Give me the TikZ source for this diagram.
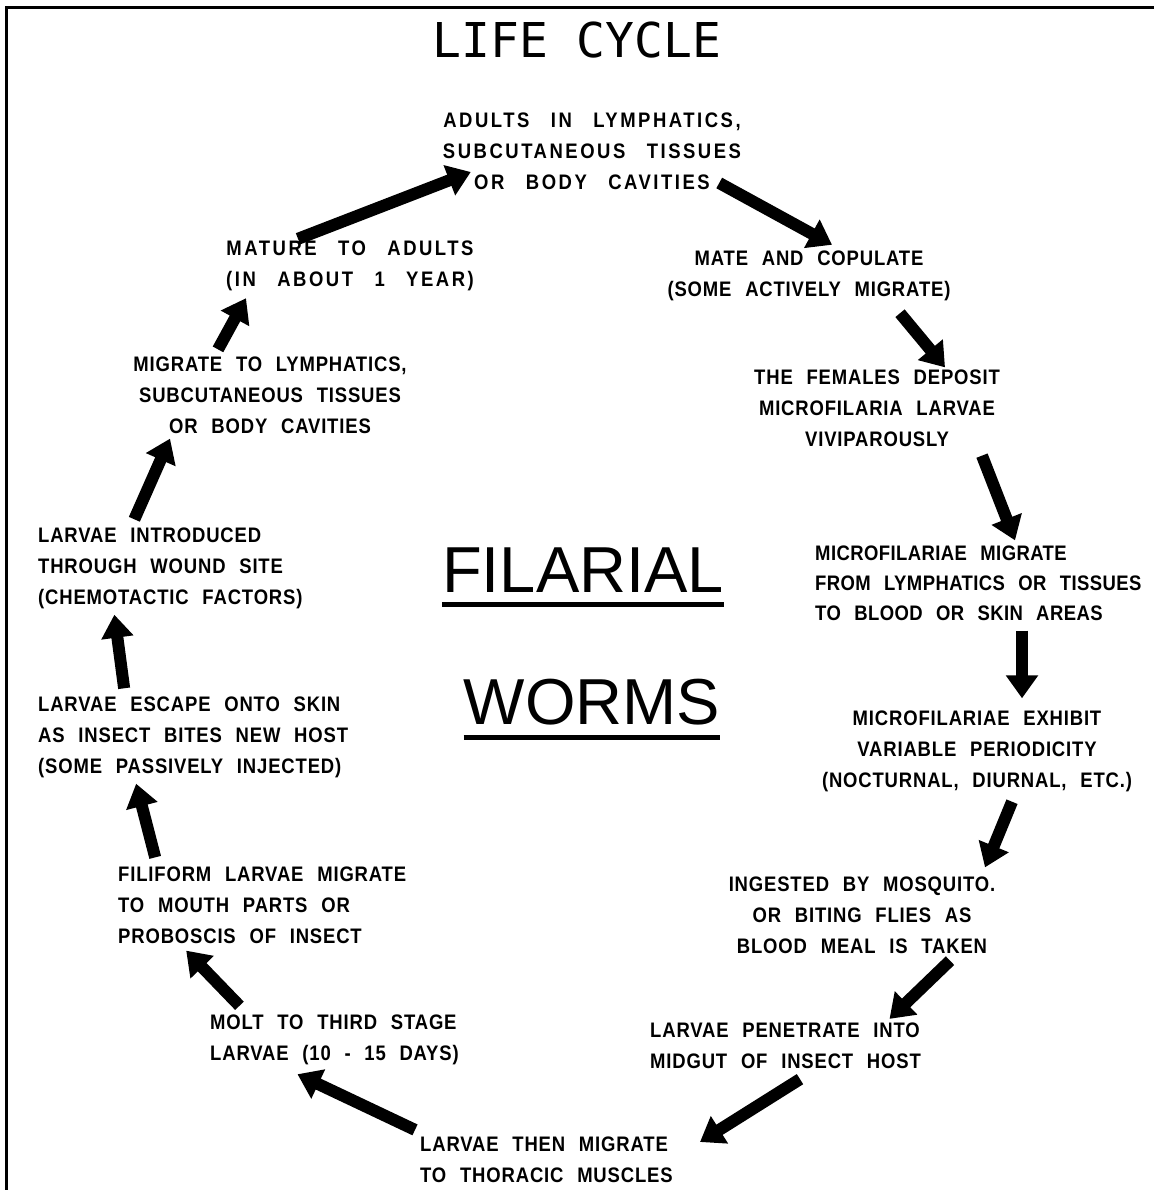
\documentclass[tikz,border=0pt]{standalone}
\usepackage{fontspec}
\setmainfont{Liberation Sans}
\newfontfamily\handfont[FakeStretch=0.88,LetterSpace=4,WordSpace=2.3]{Liberation Sans}
\newfontfamily\widefont[FakeStretch=0.88,LetterSpace=12,WordSpace=2.8]{Liberation Sans}
\newfontfamily\tightfont[FakeStretch=0.88,LetterSpace=2,WordSpace=2.4]{Liberation Sans}
\newfontfamily\titlefont{DejaVu Sans Mono}
\usetikzlibrary{arrows.meta,calc,positioning}

\begin{document}
\begin{tikzpicture}[x=1pt,y=-1pt,
every node/.style={inner sep=0pt,font=\handfont\bfseries\fontsize{21}{31}\selectfont},
stage/.style={align=center},
stagel/.style={align=left,anchor=west},
wide/.style={font=\widefont\bfseries\fontsize{21}{31}\selectfont},
tight/.style={font=\tightfont\bfseries\fontsize{21}{30}\selectfont},
flow/.style={line width=12pt,-{Triangle[length=23pt,width=31pt]}}]
\useasboundingbox (0,0) rectangle (1154,1190);
\draw[line width=3pt] (1154,8) -- (6,8) -- (6,1190);
\node[font=\titlefont\fontsize{48}{50}\selectfont] (T) at (577,40) {LIFE CYCLE};
\node[stage,wide] (S1) at (592,151) {ADULTS IN LYMPHATICS,\\SUBCUTANEOUS TISSUES\\OR BODY CAVITIES};
\node[stage] (S2) at (809,276) {MATE AND COPULATE\\(SOME ACTIVELY MIGRATE)};
\node[stage] (S3) at (877,408) {THE FEMALES DEPOSIT\\MICROFILARIA LARVAE\\VIVIPAROUSLY};
\node[stagel,tight] (S4) at (815,583) {MICROFILARIAE MIGRATE\\FROM LYMPHATICS OR TISSUES\\TO BLOOD OR SKIN AREAS};
\node[stage] (S5) at (977,751) {MICROFILARIAE EXHIBIT\\VARIABLE PERIODICITY\\(NOCTURNAL, DIURNAL, ETC.)};
\node[stage] (S6) at (862,915) {INGESTED BY MOSQUITO.\\OR BITING FLIES AS\\BLOOD MEAL IS TAKEN};
\node[stagel] (S7) at (650,1046) {LARVAE PENETRATE INTO\\MIDGUT OF INSECT HOST};
\node[stagel] (S8) at (420,1160) {LARVAE THEN MIGRATE\\TO THORACIC MUSCLES};
\node[stagel] (S9) at (210,1040) {MOLT TO THIRD STAGE\\LARVAE (10 - 15 DAYS)};
\node[stagel] (S10) at (118,905) {FILIFORM LARVAE MIGRATE\\TO MOUTH PARTS OR\\PROBOSCIS OF INSECT};
\node[stagel] (S11) at (38,737) {LARVAE ESCAPE ONTO SKIN\\AS INSECT BITES NEW HOST\\(SOME PASSIVELY INJECTED)};
\node[stagel] (S12) at (38,568) {LARVAE INTRODUCED\\THROUGH WOUND SITE\\(CHEMOTACTIC FACTORS)};
\node[stage] (S13) at (270,395) {MIGRATE TO LYMPHATICS,\\SUBCUTANEOUS TISSUES\\OR BODY CAVITIES};
\node[stage,wide] (S14) at (350,266) {MATURE TO ADULTS\\(IN ABOUT 1 YEAR)};
\node[font=\fontsize{65}{70}\selectfont] (F) at (583,570) {FILARIAL};
\node[font=\fontsize{65}{70}\selectfont] (W) at (592,702) {WORMS};
\draw[line width=5pt] ([shift={(0,12)}]F.south west) -- ([shift={(0,12)}]F.south east);
\draw[line width=5pt] ([shift={(0,12)}]W.south west) -- ([shift={(0,12)}]W.south east);
\draw[flow] ([shift={(-52,-2)}]S14.north) -- ([shift={(28,21)}]S1.west);
\draw[flow] ([shift={(-22,32)}]S1.east) -- ([shift={(23,-6)}]S2.north);
\draw[flow] ([shift={(91,12)}]S2.south) -- ([shift={(68,-2)}]S3.north);
\draw[flow] ([shift={(105,9)}]S3.south) -- ([shift={(200,-5)}]S4.north west);
\draw[flow] ([shift={(207,10)}]S4.south west) -- ([shift={(45,-12)}]S5.north);
\draw[flow] ([shift={(35,10)}]S5.south) -- ([shift={(123,-9)}]S6.north);
\draw[flow] ([shift={(88,7)}]S6.south) -- ([shift={(104,-4)}]S7.north);
\draw[flow] ([shift={(150,10)}]S7.south west) -- ([shift={(280,-18)}]S8.west);
\draw[flow] ([shift={(-5,-7)}]S8.north west) -- ([shift={(-37,9)}]S9.south);
\draw[flow] ([shift={(-95,-9)}]S9.north) -- ([shift={(-76,7)}]S10.south);
\draw[flow] ([shift={(-107,-9)}]S10.north) -- ([shift={(-57,6)}]S11.south);
\draw[flow] ([shift={(-69,-8)}]S11.north) -- ([shift={(-56,6)}]S12.south);
\draw[flow] ([shift={(-36,-8)}]S12.north) -- ([shift={(-100,5)}]S13.south);
\draw[flow] ([shift={(-52,-7)}]S13.north) -- ([shift={(-104,7)}]S14.south);
\end{tikzpicture}
\end{document}
